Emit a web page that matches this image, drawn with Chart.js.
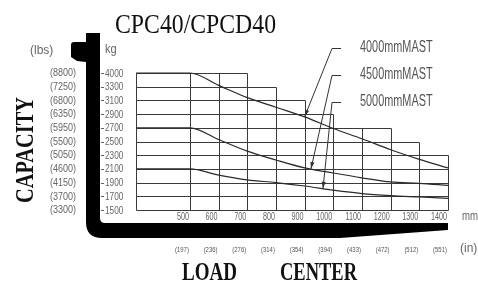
<!DOCTYPE html>
<html>
<head>
<meta charset="utf-8">
<script src="https://cdn.jsdelivr.net/npm/chart.js@4.4.1/dist/chart.umd.min.js"></script>
<style>
  html, body { margin: 0; padding: 0; background: #fff; }
  #wrap { width: 478px; height: 284px; }
</style>
</head>
<body>
<div id="wrap"><canvas id="capChart" width="478" height="284"></canvas></div>
<script>
// load centre (mm) and matching inch labels
const loadCenters = [500, 600, 700, 800, 900, 1000, 1100, 1200, 1300, 1400];
const inchLabels = ['(197)', '(236)', '(276)', '(314)', '(354)', '(394)', '(433)', '(472)', '(512)', '(551)'];

// capacity ticks, kg and lbs (evenly spaced on the sheet)
const kgTicks = [4000, 3300, 3100, 2900, 2700, 2500, 2300, 2100, 1900, 1700, 1500];
const lbsTicks = ['(8800)', '(7250)', '(6800)', '(6350)', '(5950)', '(5500)', '(5050)', '(4600)', '(4150)', '(3700)', '(3300)'];

// top of each vertical grid line (staircase grid)
const columnTops = [4000, 4000, 4000, 3300, 3100, 2900, 2700, 2700, 2500, 2300];

// capacity curves, kg at each load centre
const mastNames = ['4000mmMAST', '4500mmMAST', '5000mmMAST'];
const mast4000 = [4000, 3370, 3140, 3000, 2860, 2690, 2540, 2380, 2240, 2115];
const mast4500 = [2700, 2530, 2360, 2230, 2115, 2040, 1970, 1910, 1890, 1860];
const mast5000 = [2100, 2010, 1940, 1900, 1850, 1790, 1740, 1710, 1690, 1670];
const pointerAt = [900, 922, 964];   // load centre where each callout arrow lands

const xMin = 312;   // left edge of the grid (flat part before 500)

// the kg ticks are evenly spaced, so map kg -> tick position
function kgToAxis(v) {
    const n = kgTicks.length - 1;
    for (let i = 0; i < n; i++) {
        const hi = kgTicks[i], lo = kgTicks[i + 1];
        if (v <= hi && v >= lo) return (n - i - 1) + (v - lo) / (hi - lo);
    }
    return v > kgTicks[0] ? n : 0;
}

function toPoints(series) {
    const pts = [{ x: xMin, y: kgToAxis(series[0]) }];
    loadCenters.forEach((c, i) => pts.push({ x: c, y: kgToAxis(series[i]) }));
    return pts;
}

function valueAt(series, x) {
    for (let i = 0; i < loadCenters.length - 1; i++) {
        if (x >= loadCenters[i] && x <= loadCenters[i + 1]) {
            const t = (x - loadCenters[i]) / (loadCenters[i + 1] - loadCenters[i]);
            return series[i] + (series[i + 1] - series[i]) * t;
        }
    }
    return series[series.length - 1];
}

function drawText(ctx, text, x, y, font, sx, align, color) {
    ctx.save();
    ctx.font = font;
    ctx.fillStyle = color || '#666';
    ctx.textAlign = align || 'left';
    ctx.textBaseline = 'middle';
    ctx.translate(x, y);
    ctx.scale(sx, 1);
    ctx.fillText(text, 0, 0);
    ctx.restore();
}

function fitText(ctx, text, x, y, font, width, color) {
    ctx.save();
    ctx.font = font;
    ctx.fillStyle = color || '#111';
    ctx.textAlign = 'left';
    ctx.textBaseline = 'alphabetic';
    const w = ctx.measureText(text).width;
    ctx.translate(x, y);
    ctx.scale(width / w, 1);
    ctx.fillText(text, 0, 0);
    ctx.restore();
}

const crisp = v => Math.round(v) + 0.5;

const sheetPlugin = {
    id: 'sheet',
    beforeDraw(chart) {
        const ctx = chart.ctx;
        ctx.save();
        ctx.fillStyle = '#fff';
        ctx.fillRect(0, 0, chart.width, chart.height);
        ctx.restore();
    },
    beforeDatasetsDraw(chart) {
        const ctx = chart.ctx;
        const xs = chart.scales.x, ys = chart.scales.y;
        const left = crisp(xs.getPixelForValue(xMin));
        const bottom = crisp(ys.getPixelForValue(0));
        ctx.save();
        ctx.strokeStyle = '#3a3a3a';
        ctx.lineWidth = 1;
        ctx.beginPath();
        // left edge
        ctx.moveTo(left, bottom);
        ctx.lineTo(left, crisp(ys.getPixelForValue(kgToAxis(kgTicks[0]))));
        // vertical lines with stepped tops
        loadCenters.forEach((c, i) => {
            const px = crisp(xs.getPixelForValue(c));
            ctx.moveTo(px, bottom);
            ctx.lineTo(px, crisp(ys.getPixelForValue(kgToAxis(columnTops[i]))));
        });
        // horizontal lines run to the last column tall enough
        kgTicks.forEach(t => {
            let last = xMin;
            loadCenters.forEach((c, i) => { if (columnTops[i] >= t) last = c; });
            const py = crisp(ys.getPixelForValue(kgToAxis(t)));
            ctx.moveTo(left, py);
            ctx.lineTo(crisp(xs.getPixelForValue(last)), py);
        });
        ctx.stroke();
        ctx.restore();
    },
    afterDraw(chart) {
        const ctx = chart.ctx;
        const xs = chart.scales.x, ys = chart.scales.y;

        // black truck fork outline
        ctx.save();
        ctx.fillStyle = '#000';
        ctx.beginPath();
        ctx.moveTo(86, 33);
        ctx.lineTo(100, 33);
        ctx.lineTo(100, 218);
        ctx.quadraticCurveTo(100, 223, 105, 223);
        ctx.lineTo(448, 223);
        ctx.lineTo(448, 230);
        ctx.lineTo(340, 238);
        ctx.lineTo(102, 238);
        ctx.quadraticCurveTo(86, 238, 86, 222);
        ctx.lineTo(86, 62);
        ctx.lineTo(77, 61);
        ctx.lineTo(71, 57);
        ctx.lineTo(71, 45);
        ctx.quadraticCurveTo(71, 42, 74, 42);
        ctx.lineTo(86, 42);
        ctx.closePath();
        ctx.fill();
        ctx.restore();

        // title and axis captions
        fitText(ctx, 'CPC40/CPCD40', 115, 33, '27px "Liberation Serif"', 161, '#111');
        fitText(ctx, 'LOAD', 182, 280, 'bold 26px "Liberation Serif"', 55, '#111');
        fitText(ctx, 'CENTER', 280, 280, 'bold 26px "Liberation Serif"', 77, '#111');
        ctx.save();
        ctx.translate(33, 203);
        ctx.rotate(-Math.PI / 2);
        fitText(ctx, 'CAPACITY', 0, 0, 'bold 26px "Liberation Serif"', 106, '#111');
        ctx.restore();

        drawText(ctx, '(lbs)', 30, 51, '12px "Liberation Sans"', 1.0, 'left');
        drawText(ctx, 'kg', 105, 49, '13px "Liberation Sans"', 0.85, 'left');
        drawText(ctx, 'mm', 462, 217, '12px "Liberation Sans"', 0.8, 'left');
        drawText(ctx, '(in)', 460, 249, '12px "Liberation Sans"', 1.0, 'left');

        // y tick labels (kg and lbs)
        ctx.save();
        ctx.strokeStyle = '#666';
        ctx.lineWidth = 1;
        kgTicks.forEach((t, i) => {
            const py = ys.getPixelForValue(kgToAxis(t));
            ctx.beginPath();
            ctx.moveTo(101, crisp(py));
            ctx.lineTo(104, crisp(py));
            ctx.stroke();
            drawText(ctx, String(t), 105, py + 0.5, '11px "Liberation Sans"', 0.75, 'left');
            drawText(ctx, lbsTicks[i], 50, py + 0.5, '10px "Liberation Sans"', 0.9, 'left');
        });
        ctx.restore();

        // x tick labels (mm and inch)
        loadCenters.forEach((c, i) => {
            const px = xs.getPixelForValue(c);
            drawText(ctx, String(c), px - 1, 217, '10px "Liberation Sans"', 0.72, 'right');
            drawText(ctx, inchLabels[i], px - 8, 250, '7px "Liberation Sans"', 0.85, 'center', '#555');
        });

        // callouts for the three masts
        const series = [mast4000, mast4500, mast5000];
        const labelY = [48, 75, 102];
        ctx.save();
        ctx.strokeStyle = '#333';
        ctx.fillStyle = '#333';
        ctx.lineWidth = 1;
        series.forEach((s, k) => {
            const tx = xs.getPixelForValue(pointerAt[k]);
            const ty = ys.getPixelForValue(kgToAxis(valueAt(s, pointerAt[k])));
            const sx = 332, sy = labelY[k];
            ctx.beginPath();
            ctx.moveTo(341, sy + 0.5);
            ctx.lineTo(sx, sy + 0.5);
            ctx.lineTo(tx, ty);
            ctx.stroke();
            const a = Math.atan2(ty - sy, tx - sx);
            ctx.beginPath();
            ctx.moveTo(tx, ty);
            ctx.lineTo(tx - 7 * Math.cos(a) + 2 * Math.sin(a), ty - 7 * Math.sin(a) - 2 * Math.cos(a));
            ctx.lineTo(tx - 7 * Math.cos(a) - 2 * Math.sin(a), ty - 7 * Math.sin(a) + 2 * Math.cos(a));
            ctx.closePath();
            ctx.fill();
            drawText(ctx, mastNames[k], 360, sy, '16px "Liberation Sans"', 0.68, 'left', '#555');
        });
        ctx.restore();
    }
};

const ctx = document.getElementById('capChart').getContext('2d');
const capChart = new Chart(ctx, {
    type: 'line',
    data: {
        datasets: [mast4000, mast4500, mast5000].map((s, k) => ({
            label: mastNames[k],
            data: toPoints(s),
            borderColor: '#2a2a2a',
            borderWidth: 1.2,
            pointRadius: 0,
            fill: false,
            clip: false,
            cubicInterpolationMode: 'monotone'
        }))
    },
    options: {
        responsive: false,
        devicePixelRatio: 1,
        animation: false,
        layout: { padding: { left: 136, right: 30, top: 73, bottom: 74 } },
        plugins: { legend: { display: false }, tooltip: { enabled: false } },
        scales: {
            x: { type: 'linear', min: xMin, max: 1400, display: false },
            y: { type: 'linear', min: 0, max: kgTicks.length - 1, display: false }
        }
    },
    plugins: [sheetPlugin]
});
</script>
</body>
</html>
